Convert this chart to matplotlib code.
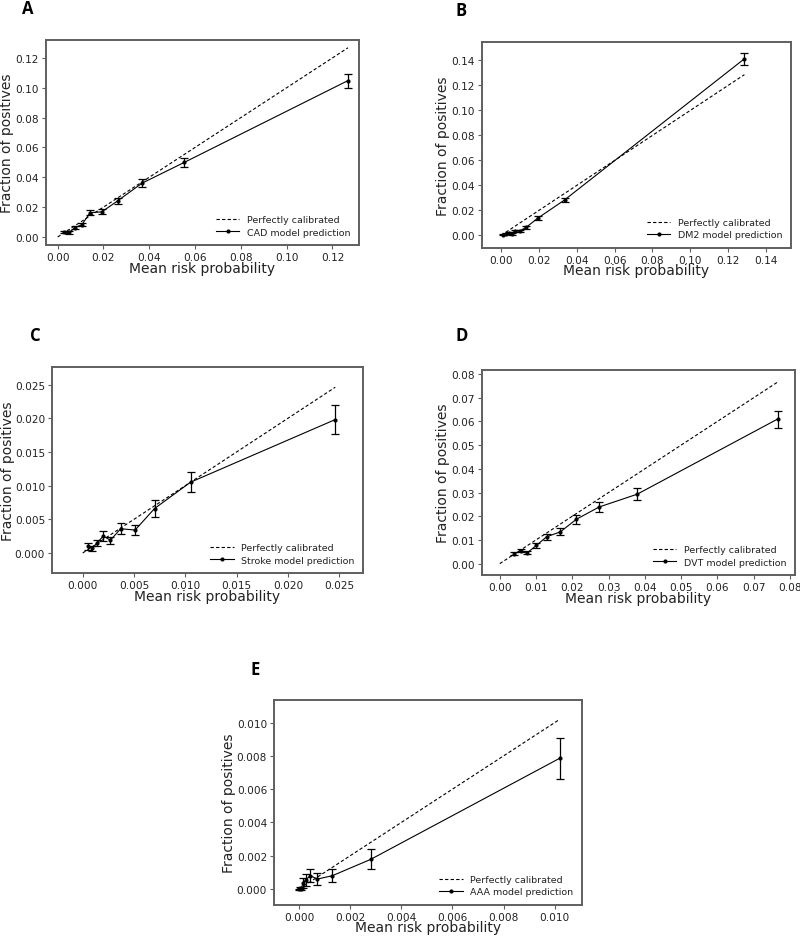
import matplotlib
matplotlib.use("Agg")
import matplotlib.pyplot as plt
from matplotlib.lines import Line2D
import numpy as np

# ---- data ----
cad_x = [0.0026, 0.0050, 0.0077, 0.0106, 0.0142, 0.0193, 0.0262, 0.0368, 0.0552, 0.1268]
cad_y = [0.0034, 0.0030, 0.0063, 0.0083, 0.0163, 0.0168, 0.0242, 0.0360, 0.0499, 0.1048]
cad_err = [0.0009, 0.0009, 0.0010, 0.0012, 0.0018, 0.0017, 0.0022, 0.0028, 0.0031, 0.0047]

dm2_x = [0.0010, 0.0025, 0.0040, 0.0055, 0.0075, 0.0098, 0.0132, 0.0195, 0.0335, 0.1286]
dm2_y = [0.0006, 0.0015, 0.0020, 0.0012, 0.0035, 0.0035, 0.0064, 0.0139, 0.0283, 0.1413]
dm2_err = [0.0004, 0.0005, 0.0006, 0.0006, 0.0008, 0.0008, 0.0010, 0.0014, 0.0018, 0.0050]

stroke_x = [0.00049, 0.00094, 0.0014, 0.0020, 0.0027, 0.0037, 0.0051, 0.0070, 0.0105, 0.0246]
stroke_y = [0.00099, 0.0007, 0.0015, 0.0025, 0.0019, 0.0036, 0.0034, 0.0066, 0.0105, 0.0198]
stroke_err = [0.0005, 0.0004, 0.0005, 0.0007, 0.0005, 0.0008, 0.0008, 0.0012, 0.0015, 0.0021]

dvt_x = [0.0039, 0.0058, 0.0076, 0.0101, 0.0129, 0.0167, 0.0211, 0.0274, 0.0379, 0.0766]
dvt_y = [0.0042, 0.0055, 0.0046, 0.0077, 0.0113, 0.0134, 0.0187, 0.0239, 0.0293, 0.0610]
dvt_err = [0.0007, 0.0008, 0.0007, 0.0010, 0.0013, 0.0015, 0.0018, 0.0022, 0.0025, 0.0036]

aaa_x = [0.00001, 0.00005, 0.00008, 0.00016, 0.00027, 0.00044, 0.00072, 0.0013, 0.0028, 0.0102]
aaa_y = [0.0, 0.00005, 0.0, 0.00036, 0.00056, 0.0008, 0.0006, 0.0008, 0.00178, 0.00786]
aaa_err = [0.00003, 0.00005, 0.00004, 0.0003, 0.00035, 0.0004, 0.00035, 0.0004, 0.0006, 0.00123]

panels = ["A", "B", "C", "D", "E"]
models = ["CAD", "DM2", "Stroke", "DVT", "AAA"]

W, H = 800, 937
fig = plt.figure(figsize=(W / 100, H / 100), dpi=100)

def rect(l, t, r, b):
    return [l / W, (H - b) / H, (r - l) / W, (b - t) / H]

specs = [
    dict(px=(46, 41, 359, 246), data=(cad_x, cad_y, cad_err),
         xlim=(-0.0051, 0.1316), ylim=(-0.0054, 0.132),
         xt=np.arange(0, 0.121, 0.02), yt=np.arange(0, 0.121, 0.02), fmt="%.2f",
         lab=(22, 14), ylx=7),
    dict(px=(482, 43, 791, 249), data=(dm2_x, dm2_y, dm2_err),
         xlim=(-0.0101, 0.1532), ylim=(-0.0101, 0.1547),
         xt=np.arange(0, 0.141, 0.02), yt=np.arange(0, 0.141, 0.02), fmt="%.2f",
         lab=(456, 16), ylx=443),
    dict(px=(52, 368, 363, 574), data=(stroke_x, stroke_y, stroke_err),
         xlim=(-0.00299, 0.0273), ylim=(-0.00297, 0.0276),
         xt=np.arange(0, 0.0251, 0.005), yt=np.arange(0, 0.0251, 0.005), fmt="%.3f",
         lab=(30, 341), ylx=8),
    dict(px=(482, 371, 795, 576), data=(dvt_x, dvt_y, dvt_err),
         xlim=(-0.0049, 0.0814), ylim=(-0.0048, 0.0817),
         xt=np.arange(0, 0.081, 0.01), yt=np.arange(0, 0.081, 0.01), fmt="%.2f",
         lab=(456, 341), ylx=443),
    dict(px=(274, 701, 582, 906), data=(aaa_x, aaa_y, aaa_err),
         xlim=(-0.00098, 0.01107), ylim=(-0.00096, 0.01136),
         xt=np.arange(0, 0.0101, 0.002), yt=np.arange(0, 0.0101, 0.002), fmt="%.3f",
         lab=(251, 675), ylx=229),
]

spine_col = "#5f5f5f"
txt_col = "#222222"

for letter, model, s in zip(panels, models, specs):
    l, t, r, b = s["px"]
    ax = fig.add_axes(rect(l, t, r, b))
    x, y, e = s["data"]
    mx = max(x)
    ax.plot([0, mx], [0, mx], ls="--", color="black", lw=0.8, dashes=(3, 2))
    ax.errorbar(x, y, yerr=e, color="black", lw=0.8, marker="o", ms=2,
                capsize=3, elinewidth=0.9, capthick=0.9)
    ax.set_xlim(*s["xlim"])
    ax.set_ylim(*s["ylim"])
    ax.set_xticks(s["xt"])
    ax.set_yticks(s["yt"])
    fmt = s["fmt"]
    ax.set_xticklabels([fmt % v for v in s["xt"]])
    ax.set_yticklabels([fmt % v for v in s["yt"]])
    ax.tick_params(labelsize=7.6, colors=txt_col, length=3, width=0.8,
                   color=spine_col, pad=2)
    for sp in ax.spines.values():
        sp.set_color(spine_col)
        sp.set_linewidth(1.4)
    ax.set_xlabel("Mean risk probability", fontsize=10, color=txt_col)
    ax.set_ylabel("Fraction of positives", fontsize=10, color=txt_col)
    ax.xaxis.label.set_va("center")
    ax.yaxis.label.set_va("center")
    ax.xaxis.set_label_coords(0.5, -22.5 / (b - t))
    ax.yaxis.set_label_coords((s["ylx"] - l) / (r - l), 0.5)
    handles = [
        Line2D([], [], ls="--", color="black", lw=0.8, dashes=(3, 2)),
        Line2D([], [], ls="-", color="black", lw=0.8, marker="o", ms=2),
    ]
    labels = ["Perfectly calibrated", f"{model} model prediction"]
    ax.legend(handles, labels, loc="lower right", frameon=False, fontsize=6.8,
              labelcolor=txt_col, handlelength=2.5, labelspacing=0.35,
              borderaxespad=0.5, handletextpad=0.8)
    fig.text(s["lab"][0] / W, 1 - s["lab"][1] / H, letter, fontsize=12,
             fontweight="bold", family="Open Sans", ha="left", va="baseline")

fig.savefig("out.png", dpi=100)
